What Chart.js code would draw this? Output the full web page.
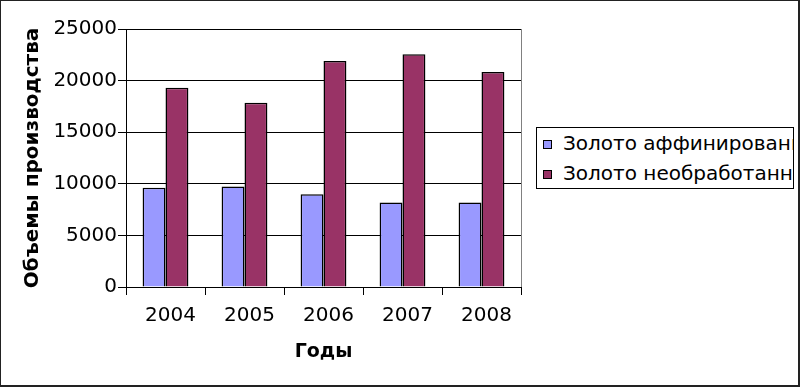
<!DOCTYPE html>
<html>
<head>
<meta charset="utf-8">
<script src="https://cdn.jsdelivr.net/npm/chart.js@4/dist/chart.umd.min.js"></script>
<style>
    body { margin: 0; background: #fff; font-family: "DejaVu Sans", sans-serif; }
    #wrap { position: relative; width: 800px; height: 387px; box-sizing: border-box;
            border-style: solid; border-color: #222; border-width: 1px 2px 2px 1px; overflow: hidden; }
    #chart { position: absolute; left: -1px; top: -1px; }
    #legend { position: absolute; left: 535px; top: 126px; width: 258px; height: 62px; box-sizing: border-box;
              border: 1px solid #000; background: #fff; overflow: hidden; white-space: nowrap; }
    .item { height: 30px; line-height: 30px; font-size: 20px; color: #000; padding-left: 6px; }
    .box { display: inline-block; width: 7px; height: 7px; border: 1px solid #000; margin-right: 11px; vertical-align: 1px; }
</style>
</head>
<body>
<div id="wrap">
    <canvas id="chart" width="800" height="387"></canvas>
    <div id="legend"></div>
</div>
<script>
const years = ['2004', '2005', '2006', '2007', '2008'];
const seriesNames = ['Золото аффинированное', 'Золото необработанное'];
const refined = [9620, 9750, 8980, 8200, 8200];
const raw = [19300, 17850, 21900, 22550, 20830];
const seriesColors = ['#9999ff', '#993366'];

// рамка области построения (серая справа)
const plotFrame = {
    id: 'plotFrame',
    beforeDatasetsDraw(chart) {
        const { ctx, chartArea: a } = chart;
        ctx.save();
        ctx.strokeStyle = '#808080';
        ctx.lineWidth = 1;
        ctx.beginPath();
        ctx.moveTo(Math.round(a.right) + 0.5, a.top);
        ctx.lineTo(Math.round(a.right) + 0.5, a.bottom);
        ctx.stroke();
        ctx.restore();
    }
};

new Chart(document.getElementById('chart'), {
    type: 'bar',
    data: {
        labels: years,
        datasets: [
            { label: seriesNames[0], data: refined, backgroundColor: seriesColors[0] },
            { label: seriesNames[1], data: raw, backgroundColor: seriesColors[1] }
        ]
    },
    options: {
        responsive: false,
        animation: false,
        layout: { padding: { top: 29, right: 279, left: 0, bottom: 0 } },
        datasets: { bar: { borderColor: '#000', borderWidth: 1.5, categoryPercentage: 0.58, barPercentage: 1 } },
        plugins: { legend: { display: false }, tooltip: { enabled: false } },
        scales: {
            x: {
                afterFit: s => { s.height = 100; },
                grid: { drawOnChartArea: false, color: '#000', tickLength: 8 },
                border: { color: '#000' },
                ticks: { color: '#000', font: { family: 'DejaVu Sans', size: 20 }, padding: 9, labelOffset: 5 },
                title: { display: true, text: 'Годы', color: '#000',
                         font: { family: 'DejaVu Sans', size: 19, weight: 'bold' }, padding: { bottom: 24 } }
            },
            y: {
                min: 0, max: 25000,
                afterFit: s => { s.width = 126; },
                grid: { color: '#000', tickLength: 8 },
                border: { color: '#000' },
                ticks: { stepSize: 5000, color: '#000', font: { family: 'DejaVu Sans', size: 20 }, padding: 1,
                         callback: v => String(v) },
                title: { display: true, text: 'Объемы производства', color: '#000',
                         font: { family: 'DejaVu Sans', size: 20, weight: 'bold' }, padding: { top: 21 } }
            }
        }
    },
    plugins: [plotFrame]
});

document.getElementById('legend').innerHTML = seriesNames.map((name, i) =>
    `<div class="item"><span class="box" style="background:${seriesColors[i]}"></span>${name}</div>`
).join('');
</script>
</body>
</html>
